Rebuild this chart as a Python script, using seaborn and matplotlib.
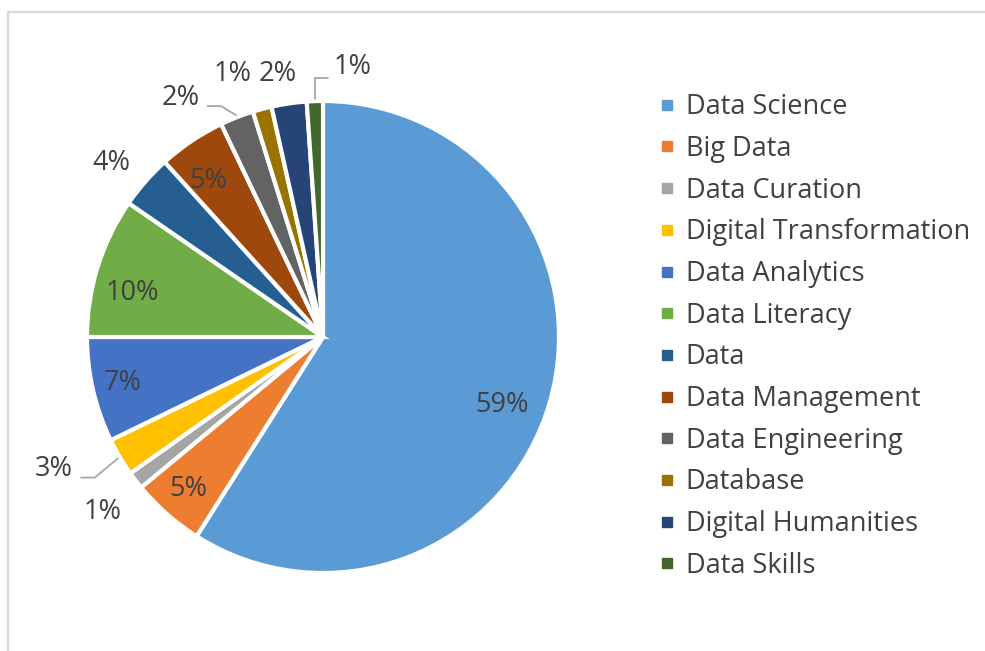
import numpy as np
import matplotlib
matplotlib.use("Agg")
import matplotlib.pyplot as plt
from matplotlib.lines import Line2D
import seaborn as sns

# data (shares of keywords, %)
topics = ["Data Science", "Big Data", "Data Curation", "Digital Transformation",
          "Data Analytics", "Data Literacy", "Data", "Data Management",
          "Data Engineering", "Database", "Digital Humanities", "Data Skills"]
shares = [59.0, 5.0, 1.2, 2.6, 7.2, 9.6, 3.7, 4.6, 2.3, 1.3, 2.4, 1.1]
colors = ["#5B9BD5", "#ED7D31", "#A5A5A5", "#FFC000", "#4472C4", "#70AD47",
          "#255E91", "#9E480E", "#636363", "#997300", "#264478", "#43682B"]

# label placement (radius factor, clockwise shift in degrees, leader line type)
label_r = [0.81, 0.86, 1.19, 1.27, 0.87, 0.83, 1.16, 0.82, 1.18, 1.18, 1.13, 1.15]
label_shift = [4.6, 0, -1, 4.4, 0, -4.4, -1.7, -2.4, -9.4, -4, -1.6, 8.2]
leader = [None, None, None, "left", None, None, None, None, "left", None, None, "up"]

sns.set_theme(style="white")
plt.rcParams["font.family"] = ["Open Sans", "DejaVu Sans"]
txt_color = "#404040"
fs = 19.5

fig = plt.figure(figsize=(9.85, 6.51), dpi=100)
ax = fig.add_axes([87 / 985, 78 / 651, 472 / 985, 472 / 651])

wedges, _ = ax.pie(shares, colors=sns.color_palette(colors), startangle=90,
                   counterclock=False,
                   wedgeprops=dict(edgecolor="white", linewidth=3))
ax.set_xlim(-1, 1)
ax.set_ylim(-1, 1)
ax.set_aspect("equal")
ax.axis("off")

for w, v, r, sh, ld in zip(wedges, shares, label_r, label_shift, leader):
    mid = (w.theta1 + w.theta2) / 2
    ang = np.deg2rad(mid - sh)
    lx, ly = r * np.cos(ang), r * np.sin(ang)
    ax.text(lx, ly, f"{v:.0f}%", ha="center", va="center", fontsize=fs,
            color=txt_color)
    if ld is not None:
        a0 = np.deg2rad(mid)
        sx, sy = 1.01 * np.cos(a0), 1.01 * np.sin(a0)
        if ld == "left":
            ex, ey = lx + 0.115, ly - 0.035
            bx, by = ex + 0.058, ey
        else:
            ex, ey = lx - 0.105, ly - 0.045
            bx, by = sx, ey
        ax.plot([sx, bx, ex], [sy, by, ey], color="#A6A6A6", lw=1.3,
                clip_on=False, solid_joinstyle="miter")

handles = [Line2D([0], [0], marker="s", linestyle="none", markersize=7.2,
                  markerfacecolor=c, markeredgecolor=c) for c in colors]
fig.legend(handles, topics, loc="center left", bbox_to_anchor=(660 / 985, 0.4831),
           frameon=False, fontsize=fs, labelcolor=txt_color, handlelength=0.55,
           handletextpad=0.4, labelspacing=0.505, borderpad=0, borderaxespad=0)

# chart-area border (top and left edges visible)
fig.add_artist(Line2D([8 / 985, 1], [1 - 12 / 651, 1 - 12 / 651],
                      color="#D9D9D9", lw=1.6))
fig.add_artist(Line2D([8 / 985, 8 / 985], [0, 1 - 12 / 651],
                      color="#D9D9D9", lw=1.6))

fig.savefig("out.png", dpi=100)
